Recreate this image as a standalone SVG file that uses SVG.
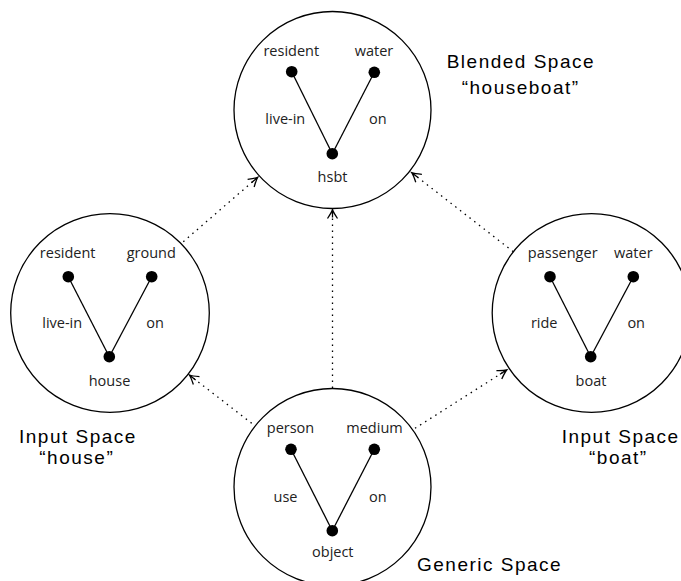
<svg xmlns="http://www.w3.org/2000/svg" width="681" height="581" viewBox="0 0 681 581">
<style>
  .space { fill: none; stroke: #000; stroke-width: 1.3; }
  .edge { stroke: #000; stroke-width: 1.3; fill: none; }
  .dot { fill: #000; }
  .lbl { font-family: "Open Sans", "Noto Sans", sans-serif; font-size: 14.5px; fill: #222; text-anchor: middle; }
  .title { font-family: "Liberation Sans", Arial, sans-serif; font-size: 19px; fill: #000; letter-spacing: 1.5px; }
  .map { stroke: #000; stroke-width: 1.3; stroke-dasharray: 1.5 4.5; fill: none; marker-end: url(#open); }
</style>
<defs>
  <marker id="open" viewBox="-12 -7 14 14" refX="0" refY="0" markerWidth="14" markerHeight="14" markerUnits="userSpaceOnUse" orient="auto">
    <path d="M -9 -5 Q -3 -1 0 0 Q -3 1 -9 5 M -8 0 L 0 0" fill="none" stroke="#000" stroke-width="1.3"/>
  </marker>
</defs>

<g id="connectors">
  <line class="map" x1="183.3" y1="241.7" x2="257.7" y2="177.3"/>
  <line class="map" x1="513.3" y1="251.7" x2="411.7" y2="172.7"/>
  <line class="map" x1="332.5" y1="388" x2="332.5" y2="209.5"/>
  <line class="map" x1="251.7" y1="423.3" x2="189.3" y2="375"/>
  <line class="map" x1="415" y1="428.3" x2="506.7" y2="370"/>
</g>

<g id="blended">
  <circle class="space" cx="332.5" cy="110" r="98.5"/>
  <line class="edge" x1="291.7" y1="71.7" x2="332.3" y2="153.7"/>
  <line class="edge" x1="374.3" y1="72.3" x2="332.3" y2="153.7"/>
  <circle class="dot" cx="291.7" cy="71.7" r="5.8"/>
  <circle class="dot" cx="374.3" cy="72.3" r="5.8"/>
  <circle class="dot" cx="332.3" cy="153.7" r="5.8"/>
  <text class="lbl" x="291.3" y="55.7">resident</text>
  <text class="lbl" x="374" y="55.7">water</text>
  <text class="lbl" x="285.3" y="124">live-in</text>
  <text class="lbl" x="377.8" y="124">on</text>
  <text class="lbl" x="332.5" y="181.7">hsbt</text>
  <text class="title" x="446.7" y="68">Blended Space</text>
  <text class="title" x="461.7" y="94.3">“houseboat”</text>
</g>

<g id="input-house">
  <circle class="space" cx="110" cy="313" r="99.3"/>
  <line class="edge" x1="68.3" y1="276.7" x2="109.3" y2="356.7"/>
  <line class="edge" x1="151.7" y1="276.7" x2="109.3" y2="356.7"/>
  <circle class="dot" cx="68.3" cy="276.7" r="5.8"/>
  <circle class="dot" cx="151.7" cy="276.7" r="5.8"/>
  <circle class="dot" cx="109.3" cy="356.7" r="5.8"/>
  <text class="lbl" x="67.7" y="258.3">resident</text>
  <text class="lbl" x="151.3" y="258.3">ground</text>
  <text class="lbl" x="62.2" y="328.3">live-in</text>
  <text class="lbl" x="155" y="328.3">on</text>
  <text class="lbl" x="109.5" y="385.7">house</text>
  <text class="title" x="19" y="442.7">Input Space</text>
  <text class="title" x="39.3" y="464">“house”</text>
</g>

<g id="input-boat">
  <circle class="space" cx="591.5" cy="313" r="99.3"/>
  <line class="edge" x1="550" y1="276.7" x2="590.7" y2="356.7"/>
  <line class="edge" x1="633.3" y1="276.7" x2="590.7" y2="356.7"/>
  <circle class="dot" cx="550" cy="276.7" r="5.8"/>
  <circle class="dot" cx="633.3" cy="276.7" r="5.8"/>
  <circle class="dot" cx="590.7" cy="356.7" r="5.8"/>
  <text class="lbl" x="562.7" y="258.3">passenger</text>
  <text class="lbl" x="633.3" y="258.3">water</text>
  <text class="lbl" x="544.2" y="328.3">ride</text>
  <text class="lbl" x="636.2" y="328.3">on</text>
  <text class="lbl" x="591" y="385.7">boat</text>
  <text class="title" x="561.7" y="442.7">Input Space</text>
  <text class="title" x="589" y="464">“boat”</text>
</g>

<g id="generic">
  <circle class="space" cx="332.5" cy="487" r="98.5"/>
  <line class="edge" x1="291" y1="449.3" x2="332.3" y2="530.7"/>
  <line class="edge" x1="374.3" y1="449.3" x2="332.3" y2="530.7"/>
  <circle class="dot" cx="291" cy="449.3" r="5.8"/>
  <circle class="dot" cx="374.3" cy="449.3" r="5.8"/>
  <circle class="dot" cx="332.3" cy="530.7" r="5.8"/>
  <text class="lbl" x="290.5" y="433.3">person</text>
  <text class="lbl" x="374.5" y="433.3">medium</text>
  <text class="lbl" x="285.5" y="501.7">use</text>
  <text class="lbl" x="377.8" y="501.7">on</text>
  <text class="lbl" x="332.8" y="557.3">object</text>
  <text class="title" x="417" y="571">Generic Space</text>
</g>
</svg>
